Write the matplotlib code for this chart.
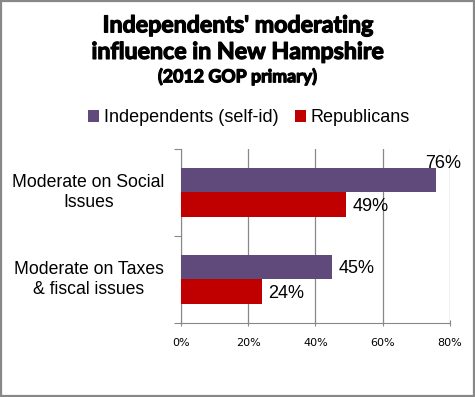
import numpy as np
import matplotlib.pyplot as plt
import matplotlib.patheffects as pe
from matplotlib.patches import Rectangle
from matplotlib.ticker import PercentFormatter

# dati
categorie = ["Moderate on Social\nIssues", "Moderate on Taxes\n& fiscal issues"]
indipendenti = [0.76, 0.45]
repubblicani = [0.49, 0.24]
serie = ["Independents (self-id)", "Republicans"]
colori = ["#604A7B", "#C00000"]
xticks = [0, 0.2, 0.4, 0.6, 0.8]

fig = plt.figure(figsize=(4.75, 3.97), dpi=100)
fig.patch.set_facecolor("white")

# bordo grigio
fig.patches.append(Rectangle((0.002, 0.002), 0.996, 0.996, transform=fig.transFigure,
                             fill=False, edgecolor="#888888", linewidth=1.6))

# titolo (tratto sottile per renderlo più "pesante")
spesso = [pe.withStroke(linewidth=0.9, foreground="black")]
fig.text(0.5, 0.935, "Independents' moderating", ha="center", va="center",
         fontsize=16.7, fontweight="bold", family="Lato", path_effects=spesso)
fig.text(0.5, 0.868, "influence in New Hampshire", ha="center", va="center",
         fontsize=16.7, fontweight="bold", family="Lato", path_effects=spesso)
fig.text(0.5, 0.808, "(2012 GOP primary)", ha="center", va="center",
         fontsize=12.8, fontweight="bold", family="Lato", path_effects=spesso)

ax = fig.add_axes([0.381, 0.1864, 0.566, 0.4383])

y = np.arange(len(categorie))
h = 0.285
b1 = ax.barh(y - h / 2, indipendenti, height=h, color=colori[0], label=serie[0], zorder=3)
b2 = ax.barh(y + h / 2, repubblicani, height=h, color=colori[1], label=serie[1], zorder=3)

# etichette valori
for barre, valori in [(b1, indipendenti), (b2, repubblicani)]:
    for r, v in zip(barre, valori):
        yc = r.get_y() + r.get_height() / 2
        if v > 0.7:
            ax.text(v + 0.02, yc - 0.19, "{}%".format(int(round(v * 100))), ha="center", va="center",
                    fontsize=13, family="Liberation Sans")
        else:
            ax.text(v + 0.02, yc + 0.02, "{}%".format(int(round(v * 100))), ha="left", va="center",
                    fontsize=13, family="Liberation Sans")

ax.set_ylim(1.5, -0.5)
ax.set_xlim(0, 0.8)
ax.set_yticks([-0.5, 0.5, 1.5])
ax.set_yticklabels([])
ax.tick_params(axis="y", length=5, color="#888888", direction="out")
for yy, c in zip(y, categorie):
    ax.text(-0.344, yy, c, ha="center", va="center", fontsize=12.7, family="Liberation Sans",
            linespacing=1.2, transform=ax.get_yaxis_transform())

ax.set_xticks(xticks)
ax.xaxis.set_major_formatter(PercentFormatter(1.0, decimals=0))
ax.tick_params(axis="x", length=5, color="#888888", labelsize=8, pad=8, direction="inout")
for lab in ax.get_xticklabels():
    lab.set_family("DejaVu Sans")
ax.grid(axis="x", color="#888888", linewidth=0.9, zorder=0)
for s in ["top", "right"]:
    ax.spines[s].set_visible(False)
ax.spines["left"].set_color("#888888")
ax.spines["bottom"].set_color("#888888")

fig.legend(handles=[b1, b2], labels=serie, loc="center", bbox_to_anchor=(0.524, 0.703), ncol=2,
           frameon=False, prop={"family": "Liberation Sans", "size": 13},
           handlelength=0.6, handleheight=0.6, handletextpad=0.25, columnspacing=0.9)

fig.savefig("out.png", dpi=100)
